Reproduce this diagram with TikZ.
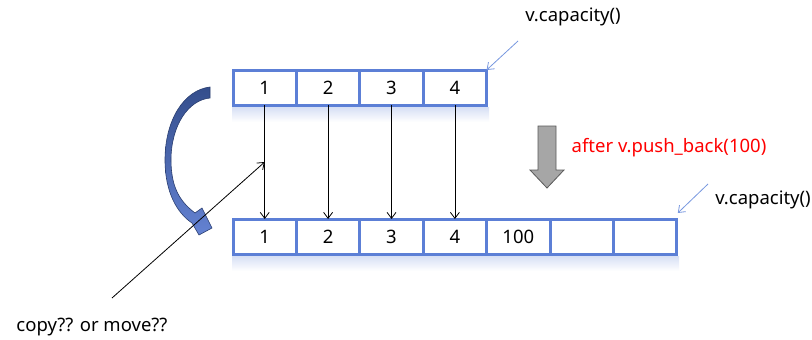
\documentclass[tikz,border=0pt]{standalone}
\usepackage{fontspec}
\setmainfont{Noto Sans}
\usetikzlibrary{arrows.meta,positioning,calc}
\definecolor{cellblue}{RGB}{92,127,214}
\definecolor{capblue}{RGB}{120,152,224}
\definecolor{darkblue}{RGB}{52,78,140}
\definecolor{lightblue}{RGB}{100,130,210}
\definecolor{arrgray}{RGB}{166,166,166}
\definecolor{arrdark}{RGB}{90,90,90}
\begin{document}
\begin{tikzpicture}[x=1pt,y=-1pt,
  every node/.style={font=\fontsize{18.5}{22}\selectfont},
  cell/.style={draw=cellblue,line width=3pt,minimum width=63.4pt,minimum height=35pt,inner sep=0pt,outer sep=0pt},
  movearrow/.style={line width=0.8pt,-{Straight Barb[length=6pt,width=9pt]}},
  caparrow/.style={draw=capblue,line width=0.8pt,-{Straight Barb[length=6pt,width=9pt]}},
  refl/.style={top color=cellblue!25,bottom color=white,draw=none}
]
\useasboundingbox (0,0) rectangle (812,340);
\fill[white] (0,0) rectangle (812,340);
% reflections
\shade[refl] (232,107) rectangle (489,122);
\shade[refl] (232,256) rectangle (679,271);
% top row
\node[cell] (t1) at (264.7,87.5) {1};
\node[cell,right=0pt of t1] (t2) {2};
\node[cell,right=0pt of t2] (t3) {3};
\node[cell,right=0pt of t3] (t4) {4};
% bottom row
\node[cell] (b1) at (264.7,236.5) {1};
\node[cell,right=0pt of b1] (b2) {2};
\node[cell,right=0pt of b2] (b3) {3};
\node[cell,right=0pt of b3] (b4) {4};
\node[cell,right=0pt of b4] (b5) {100};
\node[cell,right=0pt of b5] (b6) {};
\node[cell,right=0pt of b6] (b7) {};
% vertical arrows
\foreach \i in {1,2,3,4}{
  \draw[movearrow] (t\i.south) -- (b\i.north);
}
% curved blue arrow
\shade[top color=darkblue,bottom color=lightblue,draw=darkblue!80!black,line width=0.6pt]
  (210,87) .. controls (184,90) and (165,120) .. (165,160)
  .. controls (165,192) and (177,213) .. (192,223)
  -- (199,235) -- (212,228) -- (202,208) -- (195,213)
  .. controls (182,203) and (171,190) .. (171,160)
  .. controls (171,126) and (188,100) .. (210,98) -- cycle;
% copy line
\coordinate (cs) at (112,298);
\coordinate (ce) at ($(t1.south)!0.5!(b1.north)$);
\draw[movearrow] (cs) -- (ce);
\node (copy) at (92,327) {copy?? or move??};
% gray arrow
\draw[fill=arrgray,draw=arrdark,line width=0.8pt]
  (538,126) -- (556,126) -- (556,170) -- (564,170) -- (547,188) -- (530,170) -- (538,170) -- cycle;
\node[text=red] (after) at (669,148) {after v.push\_back(100)};
% capacity labels
\node (cap1) at (573,17) {v.capacity()};
\coordinate (c1) at (518,41);
\draw[caparrow] (c1) -- (t4.north east);
\node (cap2) at (763,200) {v.capacity()};
\coordinate (c2) at (708,184);
\coordinate (c2e) at ($(b7.north east)+(1,-6)$);
\draw[caparrow] (c2) -- (c2e);
\end{tikzpicture}
\end{document}
